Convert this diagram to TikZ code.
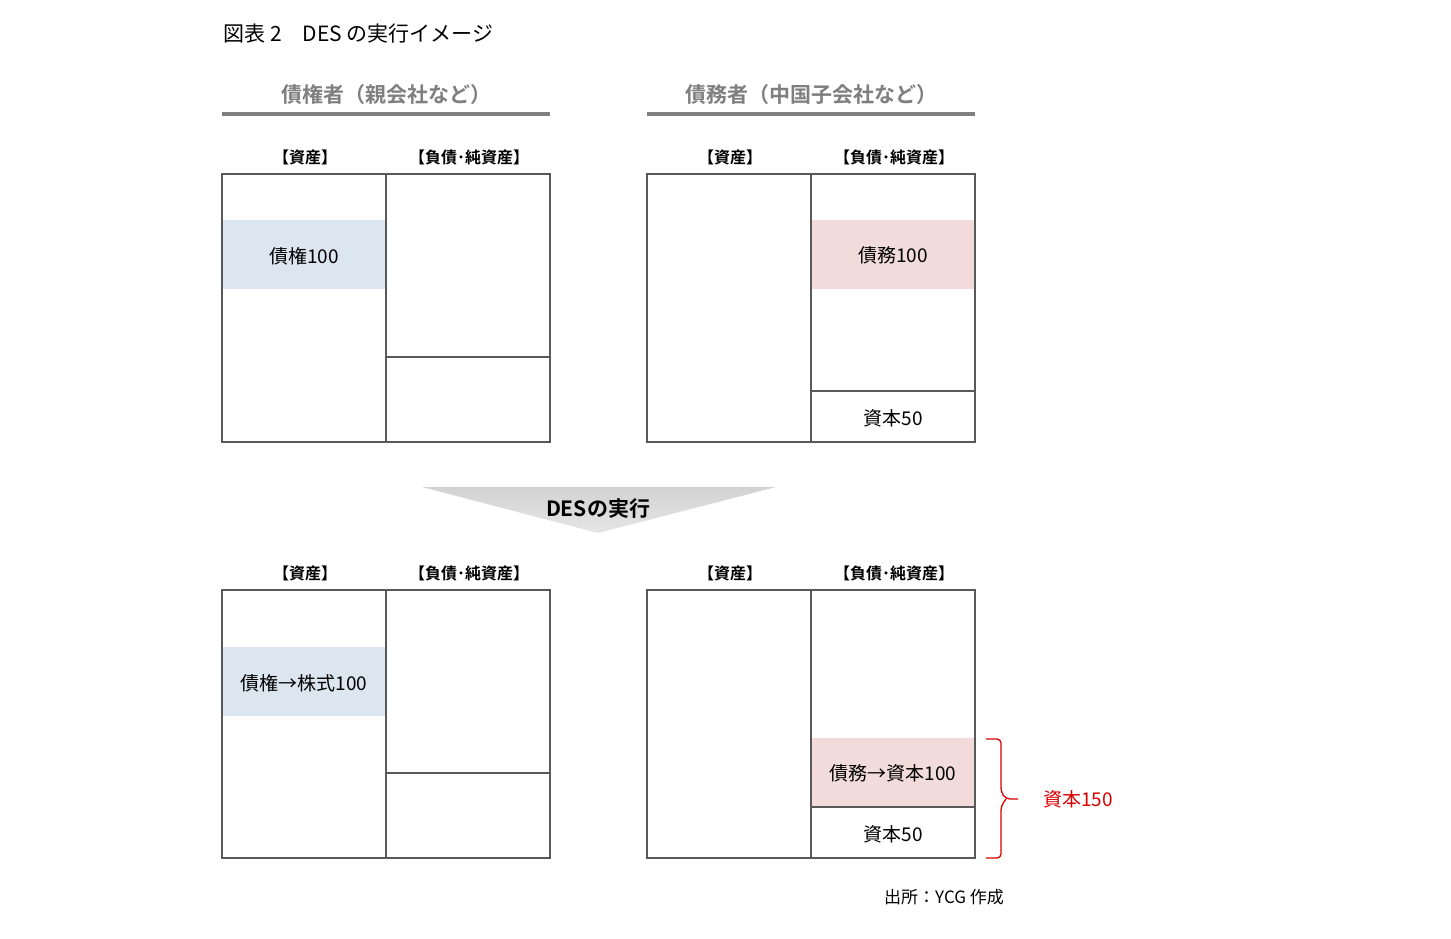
\documentclass[tikz,border=0pt]{standalone}
\usepackage{fontspec}
\setmainfont{Liberation Serif}
\newfontfamily\jp{Noto Sans CJK JP}
\newfontfamily\jpb{Noto Sans CJK JP Bold}
\newfontfamily\sans{Liberation Sans}
\usetikzlibrary{shadings}
\definecolor{bluef}{HTML}{DCE6F1}
\definecolor{pinkf}{HTML}{F2DCDB}
\definecolor{hdr}{HTML}{7F7F7F}
\definecolor{brd}{HTML}{595959}
\tikzset{
 box/.style={draw=brd,line width=1.2pt},
 cell/.style={font=\jp\fontsize{19}{22}\selectfont},
 lbl/.style={font=\jpb\fontsize{16}{19}\selectfont},
 hd/.style={font=\jpb\fontsize{21}{24}\selectfont,text=hdr},
 hline/.style={draw=hdr,line width=3.5pt},
}
\begin{document}
\begin{tikzpicture}[x=1pt,y=-1pt]
\useasboundingbox[fill=white] (0,0) rectangle (1451,939);
\node[anchor=west,font=\jp\fontsize{21}{24}\selectfont] (title) at (220,34) {図表 2　DES の実行イメージ};
\node[hd] (h1) at (386,95) {債権者（親会社など）};
\node[hd] (h2) at (811,95) {債務者（中国子会社など）};
\draw[hline] (222,114) -- (550,114);
\draw[hline] (647,114) -- (975,114);
% labels
\foreach \y in {157,573}{
 \node[lbl] at (305,\y) {【資産】};
 \node[lbl] at (469,\y) {【負債･純資産】};
 \node[lbl] at (730,\y) {【資産】};
 \node[lbl] at (894,\y) {【負債･純資産】};
}
% top-left
\fill[bluef] (222,220) rectangle (386,289);
\node[cell] (a1) at (304,256) {債権100};
\draw[box] (222,174) rectangle (550,442);
\draw[box] (386,174) -- (386,442);
\draw[box] (386,357) -- (550,357);
% top-right
\fill[pinkf] (811,220) rectangle (975,289);
\node[cell] (b1) at (893,255) {債務100};
\draw[box] (647,174) rectangle (975,442);
\draw[box] (811,174) -- (811,442);
\draw[box] (811,391) -- (975,391);
\node[cell] (b2) at (893,418) {資本50};
% arrow
\shade[top color=gray!35,bottom color=gray!20] (422,487) -- (776,487) -- (598,533) -- cycle;
\node[font=\jpb\fontsize{21}{24}\selectfont] (des) at (598,509) {DESの実行};
% bottom-left
\fill[bluef] (222,647) rectangle (386,716);
\node[cell] (c1) at (304,683) {債権→株式100};
\draw[box] (222,590) rectangle (550,858);
\draw[box] (386,590) -- (386,858);
\draw[box] (386,773) -- (550,773);
% bottom-right
\fill[pinkf] (811,738) rectangle (975,807);
\node[cell] (d1) at (893,773) {債務→資本100};
\draw[box] (647,590) rectangle (975,858);
\draw[box] (811,590) -- (811,858);
\draw[box] (811,807) -- (975,807);
\node[cell] (d2) at (893,834) {資本50};
% brace
\draw[red!85!black,line width=1.3pt,rounded corners=4pt] (986,739) -- (1001,739) -- (1001,792) -- (1006,799) -- (1018,799);
\draw[red!85!black,line width=1.3pt,rounded corners=4pt] (986,858) -- (1001,858) -- (1001,806) -- (1006,799);
\node[cell,text=red!85!black] (cap) at (1078,799) {資本150};
\node[font=\jp\fontsize{17}{20}\selectfont] (src) at (944,897) {出所：YCG 作成};
\end{tikzpicture}
\end{document}
